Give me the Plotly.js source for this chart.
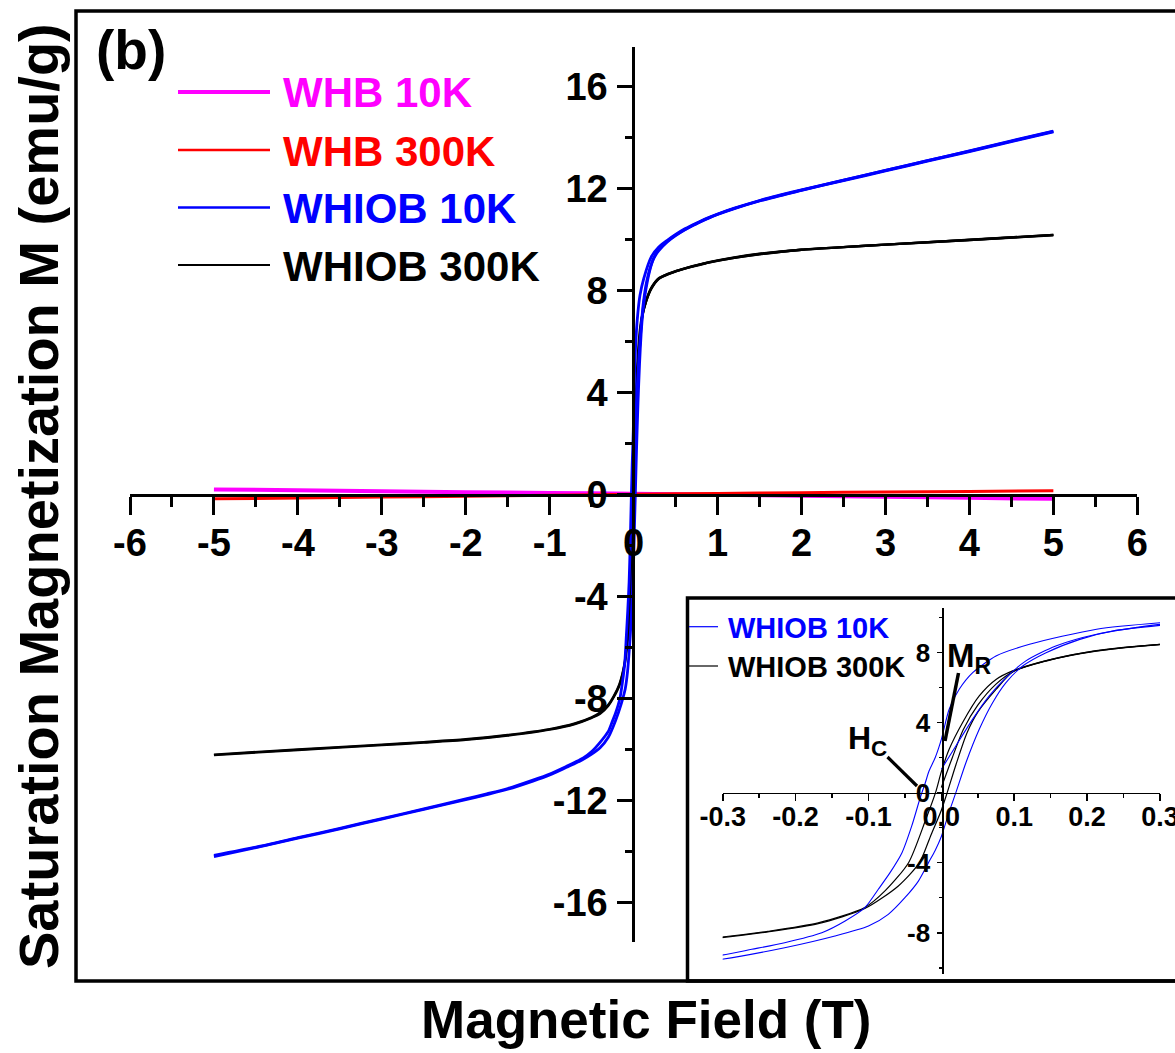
<!DOCTYPE html>
<html>
<head>
<meta charset="utf-8">
<script src="https://cdn.plot.ly/plotly-3.0.1.min.js"></script>
<style>
  html, body { margin: 0; padding: 0; background: #fff; }
  #chart { width: 1175px; height: 1053px; }
</style>
</head>
<body>
<div id="chart"></div>
<script>
// ---- Hysteresis data: field H (T), magnetization M (emu/g) ----

// WHIOB at 10 K, field swept +5 T -> -5 T
const whiob10kDownH = [5, 4.5, 4, 3.5, 3, 2.5, 2, 1.75, 1.5, 1.2, 1, 0.9, 0.8, 0.7, 0.6, 0.5, 0.4, 0.3, 0.213, 0.121, 0.075, 0.043, 0.0245, 0.0107, 0, -0.0085, -0.0168, -0.022, -0.029, -0.0406, -0.054, -0.0704, -0.0865, -0.105, -0.132, -0.164, -0.215, -0.26, -0.302, -0.4, -0.5, -0.6, -0.7, -0.8, -1, -1.2, -1.5, -1.75, -2, -2.5, -3, -3.5, -4, -4.5, -5];
const whiob10kDownM = [14.25, 13.87, 13.48, 13.09, 12.71, 12.33, 11.95, 11.75, 11.53, 11.23, 11.0, 10.87, 10.73, 10.57, 10.4, 10.2, 9.97, 9.71, 9.34, 8.48, 7.81, 6.86, 5.91, 4.77, 3.05, 2.0, 1.25, 0.57, -0.29, -1.9, -3.43, -4.57, -5.52, -6.57, -7.33, -8.0, -8.57, -8.95, -9.29, -9.72, -10.08, -10.33, -10.5, -10.66, -10.96, -11.2, -11.53, -11.74, -11.94, -12.33, -12.71, -13.09, -13.46, -13.83, -14.15];

// WHIOB at 10 K, field swept -5 T -> +5 T
const whiob10kUpH = [-5, -4.5, -4, -3.5, -3, -2.5, -2, -1.75, -1.5, -1.2, -1, -0.8, -0.7, -0.6, -0.5, -0.4, -0.302, -0.215, -0.146, -0.1, -0.0728, -0.05, -0.0315, -0.0177, -0.0085, 0, 0.0107, 0.0199, 0.0337, 0.052, 0.0703, 0.0887, 0.1116, 0.1437, 0.19, 0.235, 0.3, 0.4, 0.5, 0.6, 0.7, 0.8, 0.9, 1, 1.2, 1.5, 1.75, 2, 2.5, 3, 3.5, 4, 4.5, 5];
const whiob10kUpM = [-14.2, -13.85, -13.48, -13.11, -12.73, -12.35, -11.97, -11.77, -11.56, -11.24, -11.0, -10.7, -10.55, -10.38, -10.18, -9.93, -9.52, -8.86, -8.19, -7.62, -6.95, -6.0, -5.05, -4.0, -3.3, -2.5, -1.1, 0, 1.71, 3.62, 5.14, 6.29, 7.24, 8.0, 8.76, 9.24, 9.56, 9.9, 10.15, 10.36, 10.54, 10.7, 10.85, 10.98, 11.21, 11.51, 11.72, 11.93, 12.31, 12.69, 13.07, 13.45, 13.84, 14.22];

// WHIOB at 10 K, initial magnetization curve
const whiob10kInitH = [0, 0.0199, 0.0428, 0.0657, 0.0887, 0.116, 0.157, 0.213, 0.3, 0.4, 0.5, 0.7, 1, 1.5, 2, 3, 4, 5];
const whiob10kInitM = [1.34, 2.67, 4.19, 5.53, 6.57, 7.53, 8.38, 9.05, 9.62, 9.93, 10.17, 10.55, 10.99, 11.52, 11.94, 12.71, 13.47, 14.24];

// WHIOB at 300 K, field swept +5 T -> -5 T
const whiob300kDownH = [5, 4, 3, 2.5, 2, 1.5, 1.2, 1, 0.85, 0.7, 0.6, 0.5, 0.4, 0.3, 0.2125, 0.1437, 0.0978, 0.075, 0.052, 0.029, 0.0107, 0, -0.008, -0.022, -0.045, -0.077, -0.105, -0.169, -0.238, -0.302, -0.4, -0.5, -0.7, -1, -1.5, -2, -2.5, -3, -4, -5];
const whiob300kDownM = [10.18, 9.99, 9.8, 9.7, 9.6, 9.44, 9.3, 9.18, 9.07, 8.95, 8.86, 8.76, 8.64, 8.48, 8.1, 7.55, 6.96, 6.47, 5.53, 4.0, 2.48, 1.2, 0, -1.6, -4.0, -5.6, -6.56, -7.44, -7.92, -8.25, -8.55, -8.74, -8.98, -9.2, -9.43, -9.6, -9.71, -9.81, -10.0, -10.2];

// WHIOB at 300 K, field swept -5 T -> +5 T
const whiob300kUpH = [-5, -4, -3, -2.5, -2, -1.5, -1, -0.7, -0.5, -0.4, -0.302, -0.238, -0.169, -0.105, -0.059, -0.03, -0.015, 0, 0.008, 0.02, 0.035, 0.05, 0.075, 0.0978, 0.1437, 0.2125, 0.3, 0.4, 0.5, 0.6, 0.7, 0.85, 1, 1.2, 1.5, 2, 2.5, 3, 4, 5];
const whiob300kUpM = [-10.22, -10.02, -9.83, -9.73, -9.62, -9.45, -9.22, -9.0, -8.76, -8.6, -8.28, -7.95, -7.48, -6.62, -5.33, -4.0, -2.5, -1.0, 0, 1.6, 3.4, 4.6, 5.9, 6.9, 7.52, 8.08, 8.46, 8.63, 8.75, 8.85, 8.94, 9.06, 9.16, 9.28, 9.42, 9.6, 9.7, 9.8, 9.98, 10.17];

// WHIOB at 300 K, initial magnetization curve
const whiob300kInitH = [0, 0.015, 0.03, 0.05, 0.075, 0.1, 0.15, 0.21, 0.3, 0.5, 0.7, 1, 1.5, 2, 3, 4, 5];
const whiob300kInitM = [0.3, 2.0, 3.6, 5.0, 6.2, 6.95, 7.6, 8.1, 8.47, 8.75, 8.95, 9.17, 9.43, 9.6, 9.8, 9.98, 10.18];

// WHB (weak linear response)
const whbFieldH = [-5, -4, -3, -2, -1, 0, 1, 2, 3, 4, 5];
const whb10kM  = [0.2, 0.17, 0.13, 0.09, 0.06, 0.03, -0.01, -0.05, -0.09, -0.13, -0.17];
const whb300kM = [-0.17, -0.14, -0.1, -0.07, -0.03, 0.01, 0.04, 0.07, 0.1, 0.12, 0.15];

// Series names and colours
const seriesNames  = ['WHB 10K', 'WHB 300K', 'WHIOB 10K', 'WHIOB 300K'];
const seriesColors = ['#ff00ff', '#ff0000', '#0000ff', '#000000'];

// Tick labels (plain hyphen minus)
const mainXTicks = [-6, -5, -4, -3, -2, -1, 0, 1, 2, 3, 4, 5, 6];
const mainXLabels = ['-6', '-5', '-4', '-3', '-2', '-1', '0', '1', '2', '3', '4', '5', '6'];
const mainYTicks = [-16, -12, -8, -4, 0, 4, 8, 12, 16];
const mainYLabels = ['-16', '-12', '-8', '-4', '0', '4', '8', '12', '16'];
const insetXTicks = [-0.3, -0.2, -0.1, 0, 0.1, 0.2, 0.3];
const insetXLabels = ['-0.3', '-0.2', '-0.1', '0.0', '0.1', '0.2', '0.3'];
const insetYTicks = [-8, -4, 0, 4, 8];
const insetYLabels = ['-8', '-4', '0', '4', '8'];

// ---- Layout helpers (pixel -> paper fraction) ----
const W = 1175, H = 1053;
const px = v => v / W;
const py = v => 1 - v / H;
const FONT = 'Liberation Sans, Arial, Helvetica, sans-serif';

function line(x, y, color, width, xa, ya, name) {
  return { x, y, type: 'scatter', mode: 'lines', name, xaxis: xa, yaxis: ya,
           line: { color, width, shape: 'spline', smoothing: 0.7 },
           showlegend: false, hoverinfo: 'x+y' };
}

const traces = [
  // main panel
  line(whbFieldH, whb10kM, seriesColors[0], 4, 'x', 'y', seriesNames[0]),
  line(whbFieldH, whb300kM, seriesColors[1], 3, 'x', 'y', seriesNames[1]),
  line(whiob300kDownH, whiob300kDownM, seriesColors[3], 2.4, 'x', 'y', seriesNames[3]),
  line(whiob300kUpH, whiob300kUpM, seriesColors[3], 2.4, 'x', 'y', seriesNames[3]),
  line(whiob300kInitH, whiob300kInitM, seriesColors[3], 2.4, 'x', 'y', seriesNames[3]),
  line(whiob10kDownH, whiob10kDownM, seriesColors[2], 2.8, 'x', 'y', seriesNames[2]),
  line(whiob10kUpH, whiob10kUpM, seriesColors[2], 2.8, 'x', 'y', seriesNames[2]),
  line(whiob10kInitH, whiob10kInitM, seriesColors[2], 2.8, 'x', 'y', seriesNames[2]),
  // inset: low-field zoom of the same loops
  line(whiob300kDownH, whiob300kDownM, seriesColors[3], 1.2, 'x2', 'y2', seriesNames[3]),
  line(whiob300kUpH, whiob300kUpM, seriesColors[3], 1.2, 'x2', 'y2', seriesNames[3]),
  line(whiob300kInitH, whiob300kInitM, seriesColors[3], 1.2, 'x2', 'y2', seriesNames[3]),
  line(whiob10kDownH, whiob10kDownM, seriesColors[2], 1.1, 'x2', 'y2', seriesNames[2]),
  line(whiob10kUpH, whiob10kUpM, seriesColors[2], 1.1, 'x2', 'y2', seriesNames[2]),
  line(whiob10kInitH, whiob10kInitM, seriesColors[2], 1.1, 'x2', 'y2', seriesNames[2])
];

const axisCommon = {
  showgrid: false, zeroline: false, showline: true, linecolor: '#000',
  ticks: 'outside', tickcolor: '#000', tickmode: 'array', fixedrange: true
};

const layout = {
  width: W, height: H,
  margin: { l: 0, r: 0, t: 0, b: 0, pad: 0 },
  paper_bgcolor: '#fff', plot_bgcolor: 'rgba(0,0,0,0)',
  showlegend: false,
  font: { family: FONT, color: '#000' },
  xaxis: Object.assign({}, axisCommon, {
    domain: [px(130), px(1137.3)], range: [-6, 6],
    anchor: 'free', position: py(494.5),
    linewidth: 3, tickwidth: 3, ticklen: 18,
    tickvals: mainXTicks, ticktext: mainXLabels,
    minor: { ticks: 'outside', dtick: 0.5, tick0: 0, ticklen: 10, tickwidth: 3, tickcolor: '#000' },
    ticklabelstandoff: -4,
    tickfont: { family: FONT, size: 38, color: '#000', weight: 'bold' }
  }),
  yaxis: Object.assign({}, axisCommon, {
    domain: [py(942), py(47)], range: [-17.55, 17.55],
    anchor: 'free', position: px(633.3),
    linewidth: 3, tickwidth: 3, ticklen: 15,
    tickvals: mainYTicks, ticktext: mainYLabels,
    minor: { ticks: 'outside', dtick: 2, tick0: 0, ticklen: 7, tickwidth: 3, tickcolor: '#000' },
    ticklabelstandoff: 2,
    tickfont: { family: FONT, size: 38, color: '#000', weight: 'bold' }
  }),
  xaxis2: Object.assign({}, axisCommon, {
    domain: [px(722.7), px(1160)], range: [-0.3, 0.3],
    anchor: 'free', position: py(792.7),
    linewidth: 1.6, tickwidth: 1.6, ticklen: 7,
    tickvals: insetXTicks, ticktext: insetXLabels,
    minor: { ticks: 'outside', dtick: 0.05, tick0: 0, ticklen: 4, tickwidth: 1.6, tickcolor: '#000' },
    ticklabelstandoff: -8, ticklabeloverflow: 'allow',
    tickfont: { family: FONT, size: 27, color: '#000', weight: 'bold' }
  }),
  yaxis2: Object.assign({}, axisCommon, {
    domain: [py(974), py(607.7)], range: [-10.36, 10.57],
    anchor: 'free', position: px(942.3),
    linewidth: 1.6, tickwidth: 1.6, ticklen: 5,
    tickvals: insetYTicks, ticktext: insetYLabels,
    minor: { ticks: 'outside', dtick: 2, tick0: 0, ticklen: 3, tickwidth: 1.6, tickcolor: '#000' },
    ticklabelstandoff: 2,
    tickfont: { family: FONT, size: 26, color: '#000', weight: 'bold' }
  }),
  shapes: [
    // outer frame
    { type: 'rect', xref: 'paper', yref: 'paper', x0: px(76), x1: px(1190), y0: py(981), y1: py(11),
      line: { color: '#000', width: 3.5 }, fillcolor: 'rgba(0,0,0,0)' },
    // inset frame
    { type: 'rect', xref: 'paper', yref: 'paper', x0: px(687.5), x1: px(1190), y0: py(981), y1: py(598),
      line: { color: '#000', width: 3.5 }, fillcolor: 'rgba(0,0,0,0)' },
    // main legend samples
    { type: 'line', xref: 'paper', yref: 'paper', x0: px(178), x1: px(270), y0: py(92), y1: py(92), line: { color: seriesColors[0], width: 4 } },
    { type: 'line', xref: 'paper', yref: 'paper', x0: px(178), x1: px(270), y0: py(150), y1: py(150), line: { color: seriesColors[1], width: 2.5 } },
    { type: 'line', xref: 'paper', yref: 'paper', x0: px(178), x1: px(270), y0: py(207.5), y1: py(207.5), line: { color: seriesColors[2], width: 2.5 } },
    { type: 'line', xref: 'paper', yref: 'paper', x0: px(178), x1: px(270), y0: py(265), y1: py(265), line: { color: seriesColors[3], width: 2 } },
    // inset legend samples
    { type: 'line', xref: 'paper', yref: 'paper', x0: px(689), x1: px(718), y0: py(626.7), y1: py(626.7), line: { color: seriesColors[2], width: 1.2 } },
    { type: 'line', xref: 'paper', yref: 'paper', x0: px(689), x1: px(718), y0: py(666), y1: py(666), line: { color: seriesColors[3], width: 1.2 } },
    // pointers for M_R and H_C
    { type: 'line', xref: 'paper', yref: 'paper', x0: px(958.5), x1: px(945), y0: py(673), y1: py(741), line: { color: '#000', width: 3.5 } },
    { type: 'line', xref: 'paper', yref: 'paper', x0: px(887.5), x1: px(917), y0: py(757), y1: py(786), line: { color: '#000', width: 3.2 } }
  ],
  annotations: [
    { text: 'Saturation Magnetization M (emu/g)', textangle: -90, xref: 'paper', yref: 'paper',
      x: px(38), y: py(496), xanchor: 'center', yanchor: 'middle', showarrow: false,
      font: { family: FONT, size: 56, color: '#000', weight: 'bold' } },
    { text: 'Magnetic Field (T)', xref: 'paper', yref: 'paper',
      x: px(646.5), y: py(1019), xanchor: 'center', yanchor: 'middle', showarrow: false,
      font: { family: FONT, size: 53, color: '#000', weight: 'bold' } },
    { text: '(b)', xref: 'paper', yref: 'paper', x: px(131), y: py(50), xanchor: 'center', yanchor: 'middle',
      showarrow: false, font: { family: FONT, size: 55, color: '#000', weight: 'bold' } },
    { text: seriesNames[0], xref: 'paper', yref: 'paper', x: px(281), y: py(93), xanchor: 'left', yanchor: 'middle',
      showarrow: false, font: { family: FONT, size: 42, color: seriesColors[0], weight: 'bold' } },
    { text: seriesNames[1], xref: 'paper', yref: 'paper', x: px(281), y: py(151), xanchor: 'left', yanchor: 'middle',
      showarrow: false, font: { family: FONT, size: 42, color: seriesColors[1], weight: 'bold' } },
    { text: seriesNames[2], xref: 'paper', yref: 'paper', x: px(281), y: py(208.5), xanchor: 'left', yanchor: 'middle',
      showarrow: false, font: { family: FONT, size: 42, color: seriesColors[2], weight: 'bold' } },
    { text: seriesNames[3], xref: 'paper', yref: 'paper', x: px(281), y: py(266), xanchor: 'left', yanchor: 'middle',
      showarrow: false, font: { family: FONT, size: 42, color: seriesColors[3], weight: 'bold' } },
    { text: seriesNames[2], xref: 'paper', yref: 'paper', x: px(726), y: py(628), xanchor: 'left', yanchor: 'middle',
      showarrow: false, font: { family: FONT, size: 29, color: seriesColors[2], weight: 'bold' } },
    { text: seriesNames[3], xref: 'paper', yref: 'paper', x: px(726), y: py(667), xanchor: 'left', yanchor: 'middle',
      showarrow: false, font: { family: FONT, size: 29, color: seriesColors[3], weight: 'bold' } },
    { text: 'M<sub>R</sub>', xref: 'paper', yref: 'paper', x: px(945), y: py(658), xanchor: 'left', yanchor: 'middle',
      showarrow: false, font: { family: FONT, size: 33, color: '#000', weight: 'bold' } },
    { text: 'H<sub>C</sub>', xref: 'paper', yref: 'paper', x: px(846), y: py(740), xanchor: 'left', yanchor: 'middle',
      showarrow: false, font: { family: FONT, size: 32, color: '#000', weight: 'bold' } }
  ]
};

Plotly.newPlot('chart', traces, layout, { displayModeBar: false, staticPlot: true });
</script>
</body>
</html>
